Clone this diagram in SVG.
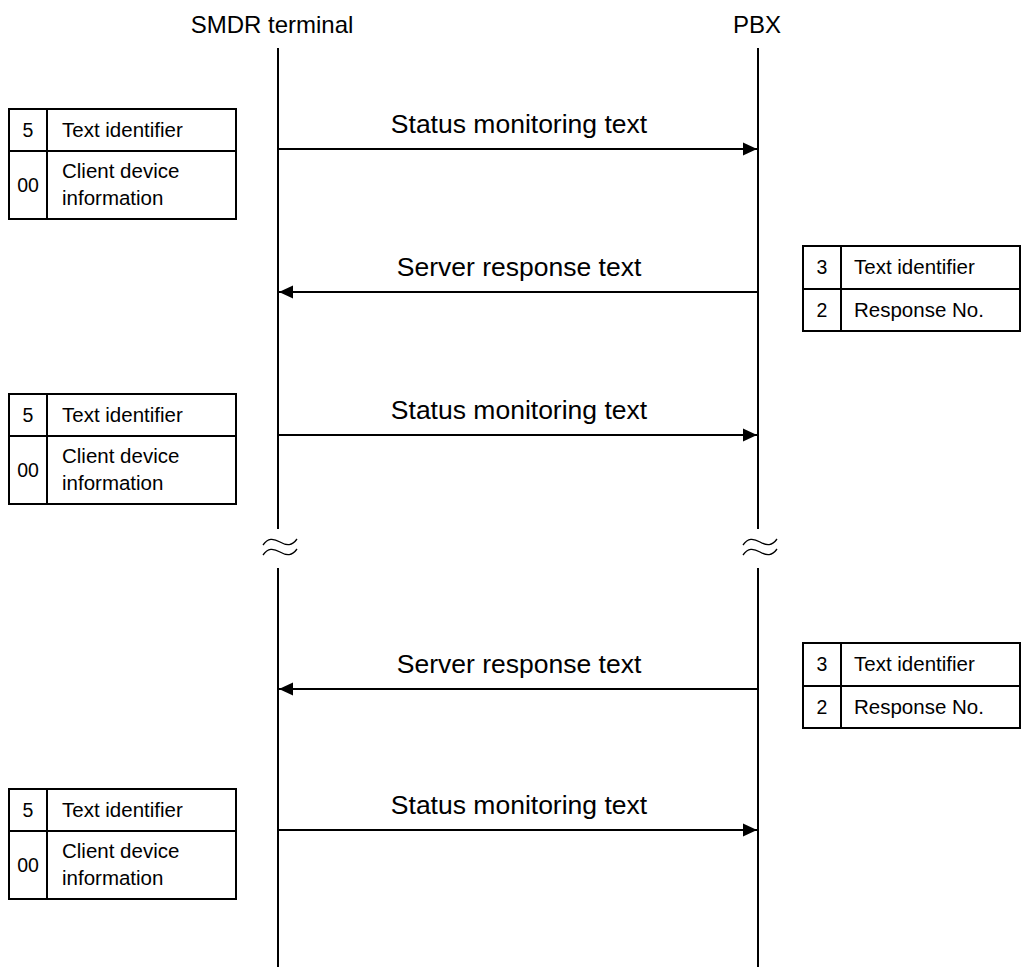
<svg xmlns="http://www.w3.org/2000/svg" width="1021" height="967" viewBox="0 0 1021 967">
  <defs>
    <marker id="arrow" markerWidth="14" markerHeight="14" viewBox="0 0 14 14" refX="14" refY="7" orient="auto" markerUnits="userSpaceOnUse">
      <path d="M0,0.5 L14,7 L0,13.5 Z" fill="#000"/>
    </marker>
  </defs>
  <style>
    text { font-family: "Liberation Sans", Arial, sans-serif; fill: #000; }
    .title { font-size: 24px; text-anchor: middle; }
    .msg { font-size: 26.5px; text-anchor: middle; }
    .cell { font-size: 20.5px; }
    .num { font-size: 19.5px; text-anchor: middle; }
    .frame { fill: #fff; stroke: #000; stroke-width: 2; }
    .rule { stroke: #000; stroke-width: 2; fill: none; }
    .life { stroke: #000; stroke-width: 2; fill: none; }
    .wave { stroke: #000; stroke-width: 1.3; fill: none; }
    .flow { stroke: #000; stroke-width: 2; fill: none; marker-end: url(#arrow); }
  </style>

  <rect width="1021" height="967" fill="#fff"/>

  <!-- participants and lifelines -->
  <g id="smdr-terminal">
    <text class="title" x="272" y="33">SMDR terminal</text>
    <line class="life" x1="278" y1="48" x2="278" y2="529"/>
    <line class="life" x1="278" y1="568" x2="278" y2="967"/>
    <path class="wave" d="M263,545 C268,538 273,538 280,542 S292,546 297,539"/>
    <path class="wave" d="M263,555 C268,548 273,548 280,552 S292,556 297,549"/>
  </g>
  <g id="pbx">
    <text class="title" x="757" y="33">PBX</text>
    <line class="life" x1="758" y1="48" x2="758" y2="529"/>
    <line class="life" x1="758" y1="568" x2="758" y2="967"/>
    <path class="wave" d="M743,545 C748,538 753,538 760,542 S772,546 777,539"/>
    <path class="wave" d="M743,555 C748,548 753,548 760,552 S772,556 777,549"/>
  </g>

  <!-- messages -->
  <g id="connectors">
    <line class="flow" x1="279" y1="149" x2="757" y2="149"/>
    <line class="flow" x1="757" y1="292" x2="279" y2="292"/>
    <line class="flow" x1="279" y1="435" x2="757" y2="435"/>
    <line class="flow" x1="757" y1="689" x2="279" y2="689"/>
    <line class="flow" x1="279" y1="830" x2="757" y2="830"/>
    <text class="msg" x="519" y="133">Status monitoring text</text>
    <text class="msg" x="519" y="276">Server response text</text>
    <text class="msg" x="519" y="419">Status monitoring text</text>
    <text class="msg" x="519" y="673">Server response text</text>
    <text class="msg" x="519" y="814">Status monitoring text</text>
  </g>

  <!-- status monitoring text fields -->
  <g id="status-fields-1">
    <rect class="frame" x="9" y="109" width="227" height="110"/>
    <line class="rule" x1="9" y1="151" x2="236" y2="151"/>
    <line class="rule" x1="47" y1="109" x2="47" y2="219"/>
    <text class="num" x="28" y="137">5</text>
    <text class="cell" x="62" y="137">Text identifier</text>
    <text class="num" x="28" y="192">00</text>
    <text class="cell" x="62" y="178">Client device</text>
    <text class="cell" x="62" y="205">information</text>
  </g>
  <g id="status-fields-2">
    <rect class="frame" x="9" y="394" width="227" height="110"/>
    <line class="rule" x1="9" y1="436" x2="236" y2="436"/>
    <line class="rule" x1="47" y1="394" x2="47" y2="504"/>
    <text class="num" x="28" y="422">5</text>
    <text class="cell" x="62" y="422">Text identifier</text>
    <text class="num" x="28" y="477">00</text>
    <text class="cell" x="62" y="463">Client device</text>
    <text class="cell" x="62" y="490">information</text>
  </g>
  <g id="status-fields-3">
    <rect class="frame" x="9" y="789" width="227" height="110"/>
    <line class="rule" x1="9" y1="831" x2="236" y2="831"/>
    <line class="rule" x1="47" y1="789" x2="47" y2="899"/>
    <text class="num" x="28" y="817">5</text>
    <text class="cell" x="62" y="817">Text identifier</text>
    <text class="num" x="28" y="872">00</text>
    <text class="cell" x="62" y="858">Client device</text>
    <text class="cell" x="62" y="885">information</text>
  </g>

  <!-- server response text fields -->
  <g id="response-fields-1">
    <rect class="frame" x="803" y="246" width="217" height="85"/>
    <line class="rule" x1="803" y1="289" x2="1020" y2="289"/>
    <line class="rule" x1="841" y1="246" x2="841" y2="331"/>
    <text class="num" x="822" y="274">3</text>
    <text class="cell" x="854" y="274">Text identifier</text>
    <text class="num" x="822" y="317">2</text>
    <text class="cell" x="854" y="317">Response No.</text>
  </g>
  <g id="response-fields-2">
    <rect class="frame" x="803" y="643" width="217" height="85"/>
    <line class="rule" x1="803" y1="686" x2="1020" y2="686"/>
    <line class="rule" x1="841" y1="643" x2="841" y2="728"/>
    <text class="num" x="822" y="671">3</text>
    <text class="cell" x="854" y="671">Text identifier</text>
    <text class="num" x="822" y="714">2</text>
    <text class="cell" x="854" y="714">Response No.</text>
  </g>
</svg>
